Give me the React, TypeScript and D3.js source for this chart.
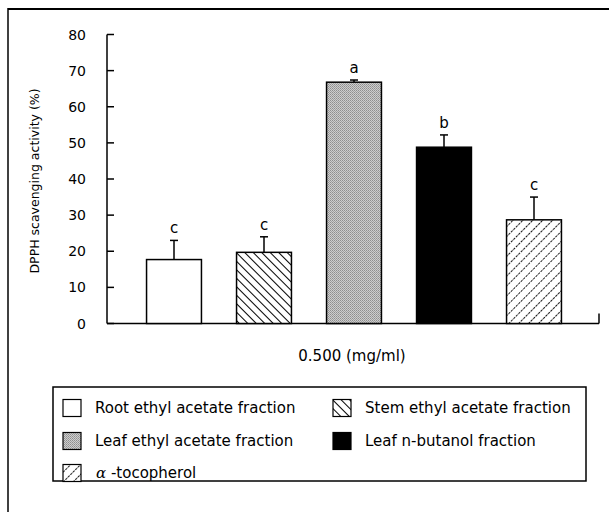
import React from "react";
import * as d3 from "d3";

const categories = [
  "Root ethyl acetate fraction",
  "Stem ethyl acetate fraction",
  "Leaf ethyl acetate fraction",
  "Leaf n-butanol fraction",
  "α-tocopherol",
];
const values = [17.7, 19.7, 66.8, 48.8, 28.7];
const errors = [5.3, 4.3, 0.6, 3.4, 6.3];
const letters = ["c", "c", "a", "b", "c"];
const yTicks = [0, 10, 20, 30, 40, 50, 60, 70, 80];
const fills = ["white", "url(#stem)", "url(#leafEA)", "black", "url(#alpha)"];

const FONT = "'DejaVu Sans', Verdana, sans-serif";

export default function App() {
  const x = d3
    .scaleBand<string>()
    .domain(categories)
    .range([129, 579])
    .paddingInner(0.39)
    .paddingOuter(0.195);
  const y = d3.scaleLinear().domain([0, 80]).range([323.5, 34.5]);
  const axisX = 107;
  const axisEnd = 599;

  const legendItems = [
    { i: 0, x: 63, y: 408 },
    { i: 1, x: 333, y: 408 },
    { i: 2, x: 63, y: 441 },
    { i: 3, x: 333, y: 441 },
    { i: 4, x: 63, y: 473 },
  ];

  return (
    <svg
      width={609}
      height={512}
      style={{ position: "absolute", left: 0, top: 0, background: "white" }}
      fontFamily={FONT}
    >
      <defs>
        <pattern id="stem" width="6" height="6" patternUnits="userSpaceOnUse" patternTransform="rotate(-45)">
          <rect width="6" height="6" fill="white" />
          <line x1="0" y1="0" x2="0" y2="6" stroke="black" strokeWidth="2" />
        </pattern>
        <pattern id="alpha" width="7" height="7" patternUnits="userSpaceOnUse" patternTransform="rotate(45)">
          <rect width="7" height="7" fill="white" />
          <line x1="0" y1="0" x2="0" y2="7" stroke="black" strokeWidth="1.8" strokeDasharray="2.5 1" />
        </pattern>
        <pattern id="leafEA" width="2" height="2" patternUnits="userSpaceOnUse">
          <rect width="2" height="2" fill="#cdcdcd" />
          <rect width="1" height="1" fill="#8e8e8e" />
          <rect x="1" y="1" width="1" height="1" fill="#a0a0a0" />
        </pattern>
      </defs>

      {/* outer frame */}
      <line x1={8} y1={9} x2={609} y2={9} stroke="black" strokeWidth={2} />
      <line x1={8} y1={8} x2={8} y2={512} stroke="black" strokeWidth={1.5} />

      {/* y axis */}
      <line x1={axisX} y1={y(80)} x2={axisX} y2={y(0)} stroke="black" strokeWidth={1.5} />
      {yTicks.map((t) => (
        <g key={t}>
          <line x1={axisX} x2={axisX + 7} y1={y(t)} y2={y(t)} stroke="black" strokeWidth={1.5} />
          <text x={86} y={y(t)} dy="0.36em" textAnchor="end" fontSize={14}>
            {t}
          </text>
        </g>
      ))}
      {/* x axis */}
      <line x1={axisX} y1={y(0)} x2={axisEnd} y2={y(0)} stroke="black" strokeWidth={1.5} />
      <line x1={axisEnd} y1={y(0)} x2={axisEnd} y2={y(0) - 10} stroke="black" strokeWidth={1.5} />

      {/* axis titles */}
      <text transform={`translate(39,181) rotate(-90)`} textAnchor="middle" fontSize={12.5}>
        DPPH scavenging activity (%)
      </text>
      <text x={352} y={361} textAnchor="middle" fontSize={15}>
        0.500 (mg/ml)
      </text>

      {/* bars */}
      {categories.map((c, i) => {
        const bx = x(c)!;
        const bw = x.bandwidth();
        const cx = bx + bw / 2;
        const top = y(values[i]);
        const errTop = y(values[i] + errors[i]);
        return (
          <g key={c}>
            <line x1={cx} x2={cx} y1={top} y2={errTop} stroke="black" strokeWidth={1.5} />
            <line x1={cx - 4} x2={cx + 4} y1={errTop} y2={errTop} stroke="black" strokeWidth={1.5} />
            <rect x={bx} y={top} width={bw} height={y(0) - top} fill={fills[i]} stroke="black" strokeWidth={1.5} />
            <text x={cx} y={errTop - 7} textAnchor="middle" fontSize={15}>
              {letters[i]}
            </text>
          </g>
        );
      })}

      {/* legend */}
      <rect x={53} y={387} width={533} height={94} fill="none" stroke="black" strokeWidth={1.5} />
      {legendItems.map(({ i, x: lx, y: ly }) => (
        <g key={i}>
          <rect x={lx} y={ly - 8.5} width={18} height={17} fill={fills[i]} stroke="black" strokeWidth={1.2} />
          {i === 4 ? (
            <text x={lx + 33} y={ly} dy="0.36em" fontSize={15}>
              <tspan fontStyle="italic" fontFamily="'DejaVu Serif', serif">α</tspan>
              <tspan> -tocopherol</tspan>
            </text>
          ) : (
            <text x={lx + 32} y={ly} dy="0.36em" fontSize={15}>
              {categories[i]}
            </text>
          )}
        </g>
      ))}
    </svg>
  );
}
